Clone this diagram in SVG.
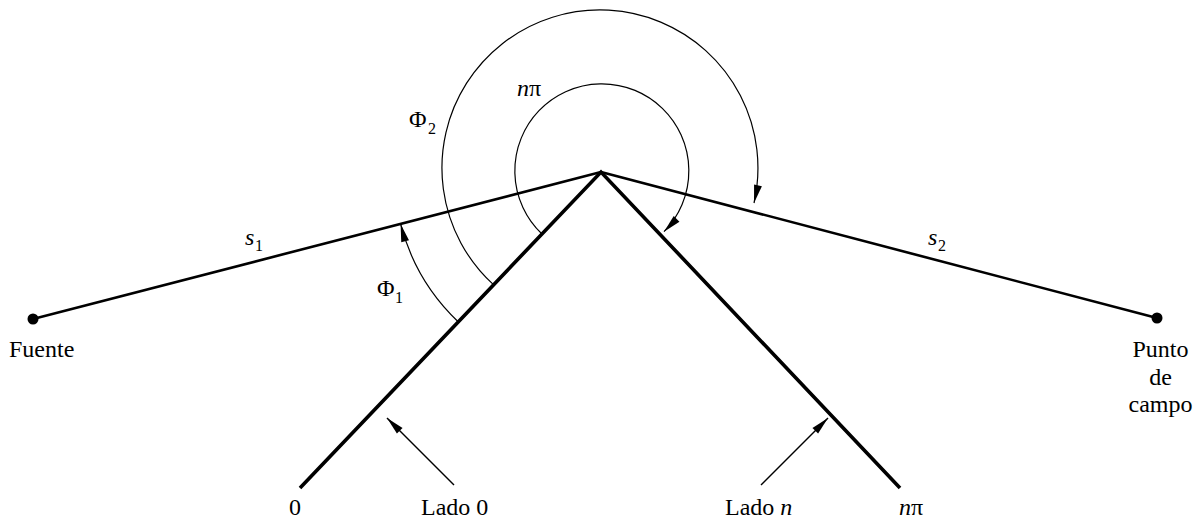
<svg xmlns="http://www.w3.org/2000/svg" width="1201" height="523" viewBox="0 0 1201 523">
  <style>
    text { font-family: "Liberation Serif", "Times New Roman", serif; font-size: 24px; fill: #000; }
    .sub { font-size: 16px; }
    .it { font-style: italic; }
    .ray { fill: none; stroke: #000; stroke-width: 2.6; stroke-linejoin: miter; }
    .wedge { fill: none; stroke: #000; stroke-width: 3.6; stroke-linejoin: miter; stroke-miterlimit: 10; }
    .arc { fill: none; stroke: #000; stroke-width: 1.2; }
    .ptr { fill: none; stroke: #000; stroke-width: 1.5; }
  </style>
  <defs>
    <marker id="ah" markerUnits="userSpaceOnUse" markerWidth="18" markerHeight="8" viewBox="0 0 18 8" refX="18" refY="4" orient="auto" overflow="visible">
      <path d="M0,0 L18,4 L0,8 z" fill="#000"/>
    </marker>
  </defs>

  <g id="wedge">
    <path class="wedge" d="M300,488 L601,172 L900,488"/>
  </g>

  <g id="connectors">
    <path id="s1-ray" class="ray" d="M33,319 L601,172"/>
    <path id="s2-ray" class="ray" d="M601,172 L1157,318"/>
    <path id="arc-phi2" class="arc" d="M493.7,284.9 A158,158 0 1 1 754,203" marker-end="url(#ah)"/>
    <path id="arc-npi" class="arc" d="M542,234 A87,87 0 1 1 664,231.7" marker-end="url(#ah)"/>
    <path id="arc-phi1" class="arc" d="M458.4,322 A207,207 0 0 1 400.6,223.9" marker-end="url(#ah)"/>
    <path id="ptr-lado0" class="ptr" d="M454,485 L387,418" marker-end="url(#ah)"/>
    <path id="ptr-ladon" class="ptr" d="M761,485 L828,418" marker-end="url(#ah)"/>
  </g>

  <g id="fuente">
    <circle cx="33" cy="319" r="5.5" fill="#000"/>
    <text x="9" y="357">Fuente</text>
  </g>

  <g id="punto-de-campo">
    <circle cx="1157" cy="318" r="5.5" fill="#000"/>
    <text x="1160.5" y="357" text-anchor="middle">Punto</text>
    <text x="1160.5" y="384.5" text-anchor="middle">de</text>
    <text x="1160.5" y="412" text-anchor="middle">campo</text>
  </g>

  <g id="labels">
    <text x="245" y="245" class="it">s</text>
    <text x="255" y="251" class="sub">1</text>
    <text x="928" y="245" class="it">s</text>
    <text x="938" y="251" class="sub">2</text>
    <text x="409" y="127">Φ</text>
    <text x="428" y="134" class="sub">2</text>
    <text x="377" y="296">Φ</text>
    <text x="395" y="303" class="sub">1</text>
    <text x="517" y="96"><tspan class="it">n</tspan>π</text>
    <text x="289" y="515">0</text>
    <text x="421" y="515">Lado 0</text>
    <text x="725" y="515">Lado <tspan class="it">n</tspan></text>
    <text x="899" y="515"><tspan class="it">n</tspan>π</text>
  </g>
</svg>
